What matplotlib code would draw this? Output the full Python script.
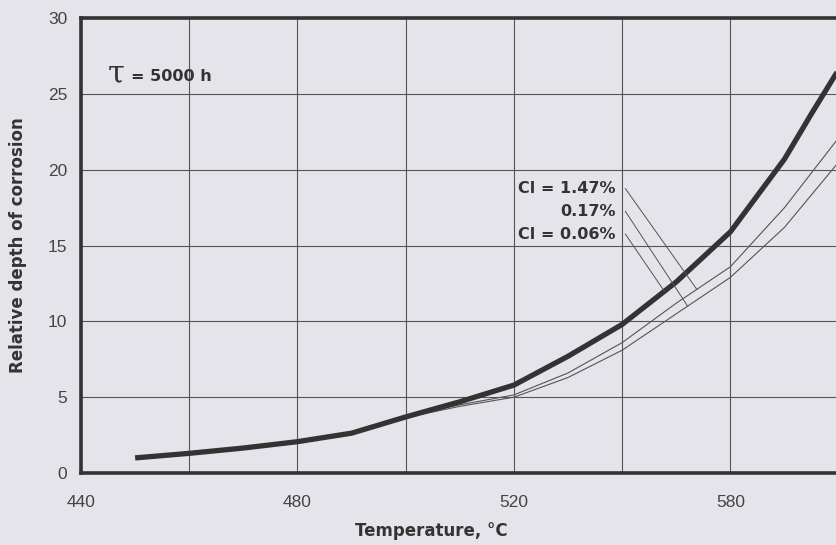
import numpy as np
import matplotlib
matplotlib.use("Agg")
import matplotlib.pyplot as plt

# readings, temperature in deg C
temps_main = [450, 460, 470, 480, 490, 500, 510, 520, 530, 540, 550, 560, 570, 575, 580]
depth_main = [1.0, 1.3, 1.65, 2.07, 2.63, 3.7, 4.7, 5.8, 7.7, 9.8, 12.6, 15.9, 20.7, 23.7, 26.6]

temps_thin = [480, 490, 500, 510, 520, 530, 540, 550, 560, 570, 580]
depth_017 = [2.07, 2.62, 3.68, 4.5, 5.15, 6.6, 8.6, 11.2, 13.6, 17.5, 22.1]
depth_006 = [2.06, 2.6, 3.65, 4.4, 5.0, 6.3, 8.1, 10.5, 12.9, 16.2, 20.5]

x_ticks = [440, 460, 480, 500, 520, 540, 560]
x_tick_labels = ["440", "", "480", "", "520", "", "580"]
y_ticks = [0, 5, 10, 15, 20, 25, 30]

ci_labels = ["Cl = 1.47%", "0.17%", "Cl = 0.06%"]
label_depth = [18.75, 17.25, 15.75]
# temperature where each leader line meets its curve
leader_end_temp = [553.8, 552.1, 547.8]

BG = "#e4e4ea"
INK = "#333333"
BOLD_FONT = ["DejaVu Sans"]

plt.rcParams["font.family"] = ["Liberation Sans", "DejaVu Sans"]

fig = plt.figure(figsize=(8.37, 5.45), dpi=100, facecolor=BG)
ax = fig.add_axes([0.0968, 0.132, 0.9032, 0.835], facecolor=BG)

ax.plot(temps_thin, depth_017, color="#555555", lw=0.8)
ax.plot(temps_thin, depth_006, color="#555555", lw=0.8)
ax.plot(temps_main, depth_main, color=INK, lw=3.8, solid_capstyle="butt")

ax.set_xlim(440, 579.7)
ax.set_ylim(0, 30)
ax.set_xticks(x_ticks)
ax.set_xticklabels(x_tick_labels)
ax.set_yticks(y_ticks)
ax.tick_params(length=0, labelsize=12.5, labelcolor="#444444")
ax.tick_params(axis="x", pad=16)
ax.tick_params(axis="y", pad=10)
ax.grid(True, color="#555555", lw=0.8)
ax.set_axisbelow(True)

for side in ("left", "bottom", "top"):
    ax.spines[side].set_linewidth(2.6)
    ax.spines[side].set_color(INK)
ax.spines["right"].set_visible(False)

ax.set_xlabel("Temperature, °C", fontsize=12, fontweight="bold", color=INK,
              family=BOLD_FONT)
ax.xaxis.set_label_coords(0.463, -0.107)
ax.set_ylabel("Relative depth of corrosion", fontsize=12, fontweight="bold",
              color=INK, family=BOLD_FONT)
ax.yaxis.set_label_coords(-0.071, 0.5)

ax.text(0.035, 0.877, "τ", transform=ax.transAxes, fontsize=22, color=INK,
        family=["DejaVu Serif"], va="center")
ax.text(0.066, 0.872, "= 5000 h", transform=ax.transAxes, fontsize=11.5,
        fontweight="bold", color=INK, va="center", family=BOLD_FONT)

curves = [(temps_thin, depth_017), (temps_thin, depth_006), (temps_main, depth_main)]
for text, yv, t_end, (tx, ty) in zip(ci_labels, label_depth, leader_end_temp, curves):
    ax.text(538.8, yv, text, ha="right", va="center", fontsize=11.5,
            fontweight="bold", color=INK, family=BOLD_FONT)
    y_end = np.interp(t_end, tx, ty)
    ax.plot([540.6, t_end], [yv, y_end], color="#555555", lw=0.7)

fig.savefig("out.png", dpi=100, facecolor=BG)
